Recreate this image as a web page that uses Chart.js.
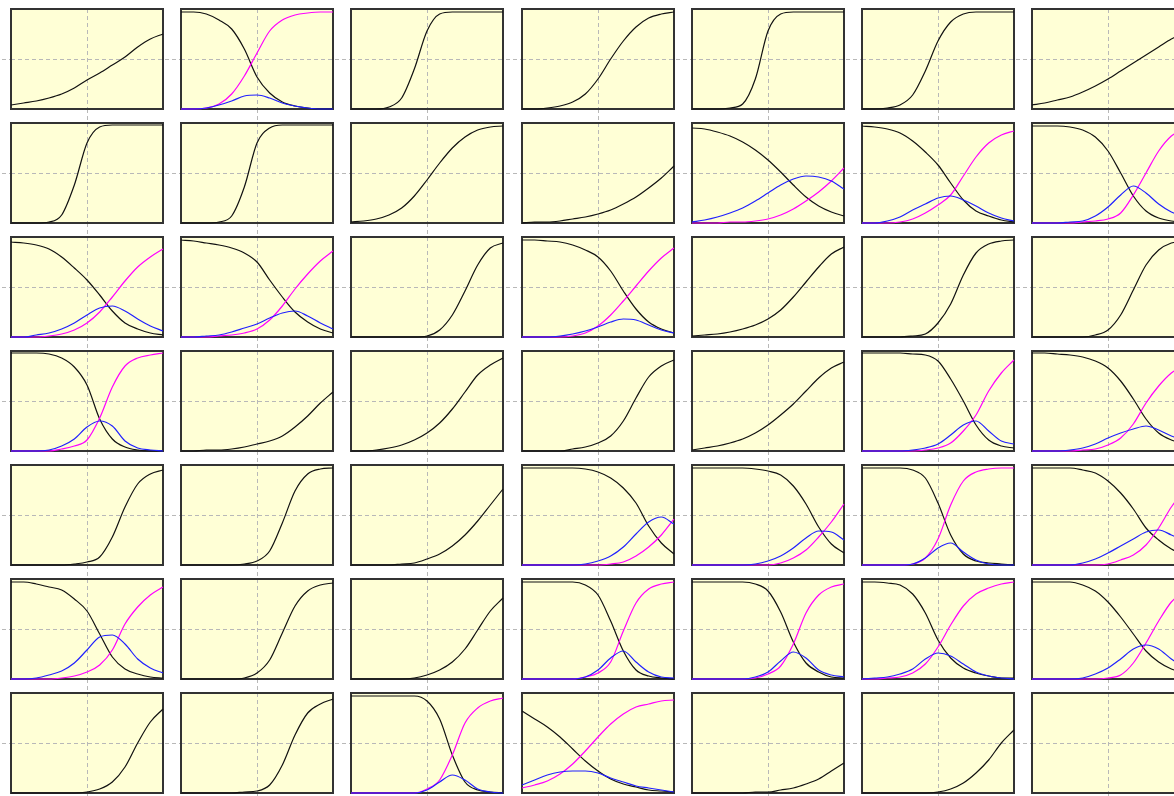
<!DOCTYPE html>
<html>
<head>
<meta charset="utf-8">
<script src="https://cdn.jsdelivr.net/npm/chart.js@4.4.1/dist/chart.umd.min.js"></script>
<style>
  html, body { margin: 0; padding: 0; background: #fff; overflow: hidden; }
  #grid { position: relative; width: 1174px; height: 796px; overflow: hidden; }
  #grid canvas { position: absolute; }
</style>
</head>
<body>
<div id="grid"></div>
<script>
// sample positions across each panel (13 steps, left edge to right edge)
const steps = [0, 1, 2, 3, 4, 5, 6, 7, 8, 9, 10, 11, 12];

// black curve of every panel, row by row (7 x 7)
const blackCurves = [
  // row 1
  [0.04,0.06,0.08,0.11,0.15,0.21,0.29,0.36,0.44,0.52,0.62,0.70,0.75],
  [0.97,0.97,0.95,0.89,0.80,0.60,0.32,0.16,0.07,0.03,0.01,0,0],
  [0,0,0,0.02,0.11,0.40,0.78,0.95,0.97,0.97,0.97,0.97,0.97],
  [0,0,0.01,0.03,0.07,0.15,0.30,0.50,0.68,0.82,0.91,0.95,0.97],
  [0,0,0,0.01,0.05,0.30,0.78,0.95,0.97,0.97,0.97,0.97,0.97],
  [0,0,0.01,0.04,0.14,0.38,0.68,0.87,0.95,0.97,0.97,0.97,0.97],
  [0.04,0.06,0.09,0.12,0.17,0.23,0.30,0.38,0.46,0.54,0.62,0.70,0.76],
  // row 2
  [0,0,0,0.01,0.08,0.38,0.80,0.96,0.98,0.98,0.98,0.98,0.98],
  [0,0,0,0.01,0.07,0.36,0.80,0.95,0.98,0.98,0.98,0.98,0.98],
  [0.01,0.02,0.04,0.08,0.15,0.27,0.43,0.60,0.75,0.86,0.93,0.96,0.97],
  [0,0.01,0.01,0.02,0.04,0.06,0.09,0.13,0.19,0.26,0.35,0.45,0.57],
  [0.95,0.94,0.91,0.87,0.81,0.73,0.63,0.51,0.38,0.26,0.17,0.11,0.07],
  [0.97,0.96,0.94,0.90,0.82,0.71,0.58,0.40,0.23,0.12,0.07,0.03,0.01],
  [0.97,0.97,0.97,0.96,0.93,0.86,0.72,0.50,0.27,0.12,0.05,0.02,0.01],
  // row 3
  [0.95,0.94,0.92,0.88,0.80,0.69,0.57,0.42,0.26,0.14,0.08,0.04,0.02],
  [0.97,0.96,0.94,0.92,0.89,0.84,0.75,0.57,0.40,0.25,0.15,0.08,0.04],
  [0,0,0,0,0,0,0.01,0.07,0.22,0.46,0.72,0.89,0.94],
  [0.97,0.97,0.96,0.95,0.92,0.87,0.80,0.66,0.46,0.28,0.15,0.08,0.04],
  [0.01,0.02,0.03,0.05,0.08,0.12,0.18,0.27,0.40,0.55,0.70,0.83,0.90],
  [0,0,0,0,0.01,0.03,0.14,0.33,0.62,0.84,0.93,0.96,0.97],
  [0,0,0,0,0,0.02,0.07,0.22,0.47,0.72,0.87,0.94,0.96],
  // row 4
  [0.98,0.98,0.98,0.97,0.93,0.84,0.66,0.32,0.12,0.04,0.01,0,0],
  [0,0,0.01,0.01,0.02,0.04,0.07,0.10,0.15,0.24,0.35,0.48,0.59],
  [0,0,0.01,0.03,0.06,0.11,0.18,0.28,0.42,0.59,0.76,0.86,0.93],
  [0,0,0,0,0.02,0.04,0.08,0.15,0.30,0.53,0.74,0.85,0.91],
  [0.01,0.03,0.05,0.08,0.12,0.18,0.26,0.36,0.47,0.60,0.73,0.83,0.89],
  [0.98,0.98,0.98,0.98,0.97,0.96,0.90,0.72,0.50,0.26,0.11,0.05,0.03],
  [0.98,0.98,0.97,0.96,0.94,0.90,0.83,0.70,0.52,0.32,0.18,0.11,0.07],
  // row 5
  [0,0,0,0,0,0.01,0.03,0.08,0.28,0.58,0.81,0.91,0.95],
  [0,0,0,0,0,0.01,0.04,0.14,0.42,0.74,0.91,0.96,0.97],
  [0,0,0,0,0.01,0.02,0.06,0.11,0.19,0.30,0.44,0.60,0.76],
  [0.97,0.97,0.97,0.97,0.97,0.96,0.93,0.87,0.77,0.62,0.39,0.22,0.11],
  [0.97,0.97,0.97,0.97,0.97,0.96,0.94,0.90,0.79,0.61,0.38,0.21,0.12],
  [0.97,0.97,0.97,0.97,0.95,0.87,0.62,0.30,0.11,0.04,0.02,0.01,0],
  [0.97,0.97,0.97,0.97,0.95,0.92,0.84,0.72,0.56,0.37,0.25,0.16,0.10],
  // row 6
  [0.97,0.97,0.95,0.92,0.89,0.80,0.68,0.45,0.22,0.10,0.05,0.02,0.01],
  [0,0,0,0,0,0.01,0.06,0.19,0.46,0.73,0.88,0.94,0.96],
  [0,0,0,0,0,0.01,0.04,0.09,0.17,0.30,0.49,0.68,0.81],
  [0.97,0.97,0.97,0.97,0.97,0.94,0.84,0.58,0.28,0.09,0.03,0.01,0],
  [0.97,0.97,0.97,0.97,0.97,0.95,0.88,0.67,0.37,0.16,0.07,0.02,0.01],
  [0.97,0.97,0.96,0.94,0.85,0.66,0.39,0.21,0.11,0.06,0.03,0.01,0.01],
  [0.97,0.97,0.97,0.97,0.94,0.88,0.77,0.62,0.45,0.28,0.17,0.10,0.06],
  // row 7
  [0,0,0,0,0,0,0.01,0.04,0.11,0.26,0.50,0.71,0.84],
  [0,0,0,0,0,0.01,0.02,0.08,0.28,0.58,0.80,0.89,0.94],
  [0.97,0.97,0.97,0.97,0.97,0.97,0.92,0.74,0.38,0.11,0.03,0.01,0],
  [0.82,0.74,0.66,0.56,0.44,0.32,0.22,0.14,0.09,0.06,0.03,0.02,0.01],
  [0,0,0,0,0,0.01,0.01,0.03,0.05,0.09,0.14,0.22,0.30],
  [0,0,0,0,0,0,0.01,0.04,0.10,0.20,0.33,0.50,0.63],
  null
];

// magenta curve (null where the panel has none)
const magentaCurves = [
  null,
  [0,0,0.01,0.05,0.15,0.33,0.56,0.78,0.89,0.94,0.96,0.97,0.97],
  null, null, null, null, null,

  null, null, null, null,
  [0,0,0,0.01,0.01,0.02,0.04,0.08,0.14,0.22,0.31,0.42,0.55],
  [0,0,0,0.01,0.04,0.10,0.18,0.28,0.47,0.66,0.80,0.88,0.92],
  [0,0,0,0,0.01,0.02,0.04,0.10,0.28,0.50,0.72,0.87,0.94],

  [0,0,0,0.01,0.03,0.07,0.14,0.25,0.40,0.56,0.70,0.80,0.88],
  [0,0,0,0.01,0.02,0.04,0.08,0.17,0.31,0.48,0.63,0.76,0.86],
  null,
  [0,0,0,0,0.01,0.04,0.11,0.22,0.36,0.51,0.66,0.79,0.89],
  null, null, null,

  [0,0,0,0,0.02,0.05,0.11,0.33,0.64,0.85,0.93,0.96,0.98],
  null, null, null, null,
  [0,0,0,0,0,0.01,0.03,0.08,0.20,0.36,0.60,0.78,0.91],
  [0,0,0,0,0.01,0.02,0.06,0.13,0.27,0.48,0.65,0.78,0.86],

  null, null, null,
  [0,0,0,0,0,0,0,0.01,0.03,0.09,0.18,0.30,0.46],
  [0,0,0,0,0,0,0,0.02,0.07,0.15,0.28,0.43,0.61],
  [0,0,0,0,0.01,0.07,0.26,0.60,0.84,0.93,0.96,0.97,0.97],
  [0,0,0,0,0,0,0.01,0.05,0.10,0.20,0.37,0.58,0.75],

  [0,0,0,0,0.01,0.03,0.07,0.14,0.29,0.55,0.72,0.84,0.92],
  null, null,
  [0,0,0,0,0,0.02,0.06,0.17,0.48,0.76,0.90,0.95,0.97],
  [0,0,0,0,0,0.01,0.05,0.13,0.35,0.66,0.84,0.92,0.95],
  [0,0,0.01,0.02,0.06,0.15,0.32,0.54,0.73,0.85,0.91,0.95,0.97],
  [0,0,0,0,0,0,0.01,0.04,0.16,0.36,0.58,0.77,0.88],

  null, null,
  [0,0,0,0,0,0,0.04,0.13,0.38,0.70,0.85,0.92,0.95],
  [0.05,0.08,0.12,0.19,0.29,0.42,0.56,0.69,0.79,0.86,0.89,0.92,0.93],
  null, null, null
];

// blue curve (null where the panel has none)
const blueCurves = [
  null,
  [0,0,0.01,0.04,0.08,0.13,0.14,0.11,0.06,0.03,0.01,0,0],
  null, null, null, null, null,

  null, null, null, null,
  [0.01,0.03,0.06,0.10,0.15,0.22,0.30,0.38,0.44,0.47,0.46,0.42,0.34],
  [0,0,0.02,0.06,0.13,0.19,0.25,0.27,0.23,0.17,0.10,0.05,0.02],
  [0,0,0,0.01,0.02,0.07,0.16,0.28,0.37,0.30,0.19,0.11,0.06],

  [0,0,0.02,0.04,0.08,0.14,0.22,0.29,0.31,0.26,0.18,0.11,0.06],
  [0,0,0.01,0.02,0.05,0.09,0.13,0.19,0.24,0.26,0.21,0.14,0.08],
  null,
  [0,0,0,0.01,0.03,0.06,0.10,0.15,0.18,0.17,0.12,0.07,0.04],
  null, null, null,

  [0,0,0,0.01,0.05,0.12,0.24,0.30,0.25,0.10,0.03,0.01,0],
  null, null, null, null,
  [0,0,0,0,0.01,0.03,0.07,0.16,0.26,0.30,0.20,0.10,0.07],
  [0,0,0,0.01,0.03,0.07,0.13,0.18,0.22,0.25,0.21,0.15,0.11],

  null, null, null,
  [0,0,0,0,0,0.01,0.04,0.09,0.18,0.31,0.43,0.48,0.41],
  [0,0,0,0,0,0.01,0.04,0.09,0.17,0.27,0.34,0.33,0.25],
  [0,0,0,0,0.01,0.07,0.17,0.22,0.13,0.05,0.01,0,0],
  [0,0,0,0,0.02,0.06,0.12,0.19,0.26,0.33,0.35,0.30,0.24],

  [0,0,0.01,0.04,0.08,0.16,0.29,0.42,0.44,0.35,0.20,0.11,0.06],
  null, null,
  [0,0,0,0,0,0.02,0.09,0.21,0.28,0.17,0.07,0.02,0.01],
  [0,0,0,0,0,0.02,0.07,0.18,0.27,0.21,0.09,0.04,0.02],
  [0,0.01,0.02,0.05,0.10,0.20,0.26,0.23,0.15,0.07,0.03,0.01,0],
  [0,0,0,0,0.01,0.05,0.11,0.20,0.30,0.34,0.30,0.20,0.12],

  null, null,
  [0,0,0,0,0,0,0.03,0.11,0.18,0.13,0.04,0.01,0],
  [0.08,0.13,0.18,0.21,0.22,0.22,0.20,0.15,0.11,0.07,0.05,0.03,0.01],
  null, null, null
];

const BLACK = '#111111';
const MAGENTA = '#ff00ff';
const BLUE = '#2020ff';
const PANEL_BG = '#ffffd6';
const GRID = '#b8b8b8';
const FRAME = '#333333';

const panelFrame = {
  id: 'panelFrame',
  beforeDraw(chart) {
    const { ctx, chartArea: a } = chart;
    ctx.save();
    ctx.fillStyle = PANEL_BG;
    ctx.fillRect(a.left, a.top, a.width, a.height);
    ctx.restore();
  },
  beforeDatasetsDraw(chart) {
    const { ctx, chartArea: a } = chart;
    ctx.save();
    ctx.strokeStyle = FRAME;
    ctx.lineWidth = 2;
    ctx.strokeRect(a.left, a.top, a.width, a.height);
    ctx.restore();
  }
};

function series(values, color) {
  return {
    data: values.map((v, k) => ({ x: steps[k], y: v })),
    borderColor: color,
    borderWidth: 1.2,
    pointRadius: 0,
    fill: false,
    cubicInterpolationMode: 'monotone',
    clip: false
  };
}

function dashedAxis(position, tickLen, middle, max) {
  return {
    type: 'linear',
    position: position,
    min: 0,
    max: max,
    afterBuildTicks: axis => { axis.ticks = [{ value: middle }]; },
    ticks: { display: false },
    grid: {
      color: GRID, lineWidth: 1, borderDash: [4, 3],
      drawTicks: true, tickLength: tickLen, tickColor: GRID, tickWidth: 1, tickBorderDash: [4, 3]
    },
    border: { display: false, dash: [4, 3] }
  };
}

const grid = document.getElementById('grid');

for (let i = 0; i < 49; i++) {
  const r = Math.floor(i / 7), c = i % 7;
  const left = Math.round(10 + 170.17 * c);
  const top = 8 + 114 * r;

  const canvas = document.createElement('canvas');
  canvas.width = 169;
  canvas.height = 113;
  canvas.style.left = (left - 15) + 'px';
  canvas.style.top = top + 'px';
  grid.appendChild(canvas);

  // first dataset is drawn on top
  const datasets = [];
  if (blueCurves[i]) datasets.push(series(blueCurves[i], BLUE));
  if (magentaCurves[i]) datasets.push(series(magentaCurves[i], MAGENTA));
  if (blackCurves[i]) datasets.push(series(blackCurves[i], BLACK));

  new Chart(canvas, {
    type: 'line',
    data: { datasets },
    options: {
      responsive: false,
      animation: false,
      events: [],
      layout: { padding: { top: 1, right: 1, left: 0, bottom: 0 } },
      plugins: { legend: { display: false }, tooltip: { enabled: false } },
      scales: {
        x: dashedAxis('bottom', 12, 6, 12),
        y: dashedAxis('left', 16, 0.5, 1)
      }
    },
    plugins: [panelFrame]
  });
}
</script>
</body>
</html>
